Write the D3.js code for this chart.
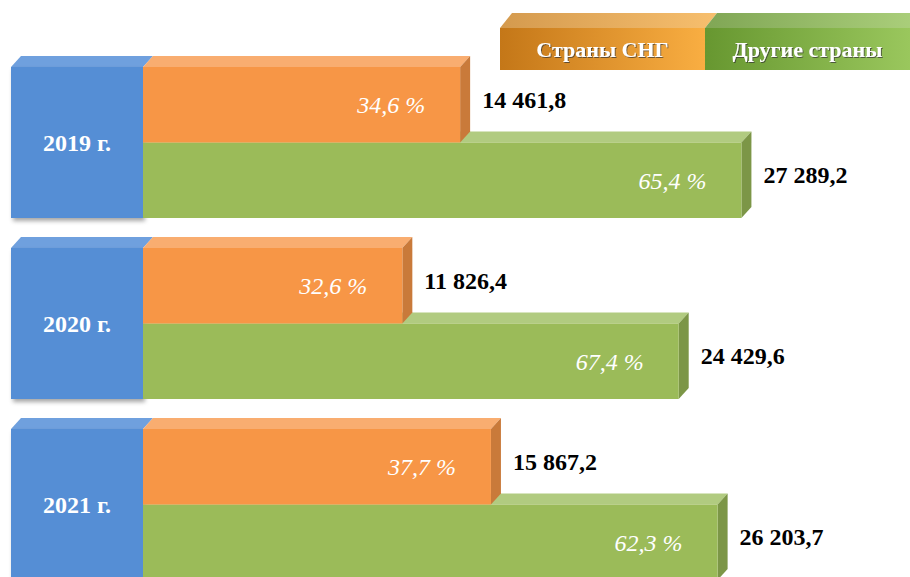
<!DOCTYPE html>
<html>
<head>
<meta charset="utf-8">
<script src="https://cdn.jsdelivr.net/npm/d3@7"></script>
<style>
  body { margin: 0; background: #fff; }
  svg { display: block; }
</style>
</head>
<body>
<svg id="chart"></svg>
<script>
const years = ["2019 г.", "2020 г.", "2021 г."]
const seriesKeys = ["cis", "other"]
const seriesNames = ["Страны СНГ", "Другие страны"]
const cisValues = [14461.8, 11826.4, 15867.2]
const otherValues = [27289.2, 24429.6, 26203.7]
const cisShares = [34.6, 32.6, 37.7]
const otherShares = [65.4, 67.4, 62.3]

const width = 910, height = 577
const depth = {dx: 10, dy: 11}
const serif = "'Liberation Serif', Tinos, 'Times New Roman', 'DejaVu Serif', serif"

const colors = {
    cis: {front: "#f79646", top: "#f9ad70", side: "#c97a3a"},
    other: {front: "#9bbb59", top: "#b1cb80", side: "#7c9647"}
}

const ru = d3.formatLocale({decimal: ",", thousands: " ", grouping: [3], currency: ["", ""]})
const fmtValue = ru.format(",.1f")
const fmtShare = ru.format(".1f")

// table built from the arrays
const rows = years.map((y, i) => ({
    year: y,
    bars: [
        {key: "cis", value: cisValues[i], share: cisShares[i]},
        {key: "other", value: otherValues[i], share: otherShares[i]}
    ]
}))

const svg = d3.select("#chart").attr("width", width).attr("height", height)
const defs = svg.append("defs")

const shadow = defs.append("filter").attr("id", "shadow").attr("x", "-10%").attr("y", "-10%").attr("width", "130%").attr("height", "130%")
shadow.append("feDropShadow").attr("dx", 2).attr("dy", 3).attr("stdDeviation", 2)
    .attr("flood-color", "#000").attr("flood-opacity", 0.35)

const textShadow = defs.append("filter").attr("id", "tshadow").attr("x", "-10%").attr("y", "-30%").attr("width", "130%").attr("height", "160%")
textShadow.append("feDropShadow").attr("dx", 1).attr("dy", 1).attr("stdDeviation", 0.6)
    .attr("flood-color", "#333").attr("flood-opacity", 0.7)

const grad = (id, c0, c1) => {
    const g = defs.append("linearGradient").attr("id", id).attr("x1", "0%").attr("x2", "100%")
    g.append("stop").attr("offset", "0%").attr("stop-color", c0)
    g.append("stop").attr("offset", "100%").attr("stop-color", c1)
}
grad("lgCisFront", "#c47718", "#f9ae42")
grad("lgCisTop", "#d49a4e", "#f7bf6e")
grad("lgOtherFront", "#679730", "#9ac75d")
grad("lgOtherTop", "#80a655", "#acd07c")

// scales
const x0 = 143
const x = d3.scaleLinear().domain([0, 28000]).range([x0, x0 + 614])
const y = d3.scaleBand().domain(years).range([67, 580]).paddingInner(30 / 181).paddingOuter(0)
const ySub = d3.scaleBand().domain(seriesKeys).range([0, y.bandwidth()])

const topFace = (xa, xb, yt) => [[xa, yt], [xa + depth.dx, yt - depth.dy], [xb + depth.dx, yt - depth.dy], [xb, yt]]
const sideFace = (xb, yt, yb) => [[xb, yt], [xb + depth.dx, yt - depth.dy], [xb + depth.dx, yb - depth.dy], [xb, yb]]
const pts = p => p.map(d => d.join(",")).join(" ")

const groups = svg.selectAll("g.year")
    .data(rows)
    .join("g")
    .attr("class", "year")
    .attr("transform", d => `translate(0,${y(d.year)})`)

// blue year block
const blockX = 11
groups.append("polygon")
    .attr("points", pts(topFace(blockX, x0, 0)))
    .attr("fill", "#6fa0de")
groups.append("rect")
    .attr("x", blockX)
    .attr("y", 0)
    .attr("width", x0 - blockX)
    .attr("height", y.bandwidth())
    .attr("fill", "#558ed5")
    .attr("filter", "url(#shadow)")
groups.append("text")
    .attr("x", (blockX + x0) / 2)
    .attr("y", y.bandwidth() / 2)
    .attr("dy", "0.35em")
    .attr("text-anchor", "middle")
    .attr("fill", "#fff")
    .style("font-family", serif)
    .style("font-size", "24px")
    .style("font-weight", "bold")
    .text(d => d.year)

// bars, green drawn first so the orange front hides its top face
const bar = groups.selectAll("g.bar")
    .data(d => d.bars.slice().reverse())
    .join("g")
    .attr("class", "bar")

bar.append("polygon")
    .attr("points", d => pts(topFace(x0, x(d.value), ySub(d.key))))
    .attr("fill", d => colors[d.key].top)
bar.append("polygon")
    .attr("points", d => pts(sideFace(x(d.value), ySub(d.key), ySub(d.key) + ySub.bandwidth())))
    .attr("fill", d => colors[d.key].side)
bar.append("rect")
    .attr("x", x0)
    .attr("y", d => ySub(d.key))
    .attr("width", d => x(d.value) - x0)
    .attr("height", ySub.bandwidth())
    .attr("fill", d => colors[d.key].front)

bar.append("text")
    .attr("x", d => x(d.value) - 35)
    .attr("y", d => ySub(d.key) + ySub.bandwidth() / 2)
    .attr("dy", "0.35em")
    .attr("text-anchor", "end")
    .attr("fill", "#fff")
    .style("font-family", serif)
    .style("font-size", "24px")
    .style("font-style", "italic")
    .text(d => fmtShare(d.share) + " %")

bar.append("text")
    .attr("x", d => x(d.value) + depth.dx + 12)
    .attr("y", d => ySub(d.key) + (ySub.bandwidth() - depth.dy) / 2)
    .attr("dy", "0.35em")
    .attr("fill", "#000")
    .style("font-family", serif)
    .style("font-size", "24px")
    .style("font-weight", "bold")
    .text(d => fmtValue(d.value))

// legend
const legend = {x: 500, y: 28, w: 205, h: 42, dx: 12, dy: 15}
const lg = svg.append("g").attr("class", "legend")
const lgItems = lg.selectAll("g")
    .data(seriesNames)
    .join("g")
    .attr("transform", (d, i) => `translate(${legend.x + i * legend.w},${legend.y})`)

lgItems.append("polygon")
    .attr("points", pts([[0, 0], [legend.dx, -legend.dy], [legend.w + legend.dx, -legend.dy], [legend.w, 0]]))
    .attr("fill", (d, i) => i === 0 ? "url(#lgCisTop)" : "url(#lgOtherTop)")
lgItems.append("rect")
    .attr("width", legend.w)
    .attr("height", legend.h)
    .attr("fill", (d, i) => i === 0 ? "url(#lgCisFront)" : "url(#lgOtherFront)")
lgItems.filter((d, i) => i === seriesNames.length - 1)
    .append("polygon")
    .attr("points", pts([[legend.w, 0], [legend.w + legend.dx, -legend.dy], [legend.w + legend.dx, legend.h - legend.dy], [legend.w, legend.h]]))
    .attr("fill", "#6f9a3c")
lgItems.append("text")
    .attr("x", legend.w / 2)
    .attr("y", legend.h / 2)
    .attr("dy", "0.35em")
    .attr("text-anchor", "middle")
    .attr("fill", "#fff")
    .attr("filter", "url(#tshadow)")
    .style("font-family", serif)
    .style("font-size", "22px")
    .style("font-weight", "bold")
    .text(d => d)
</script>
</body>
</html>
